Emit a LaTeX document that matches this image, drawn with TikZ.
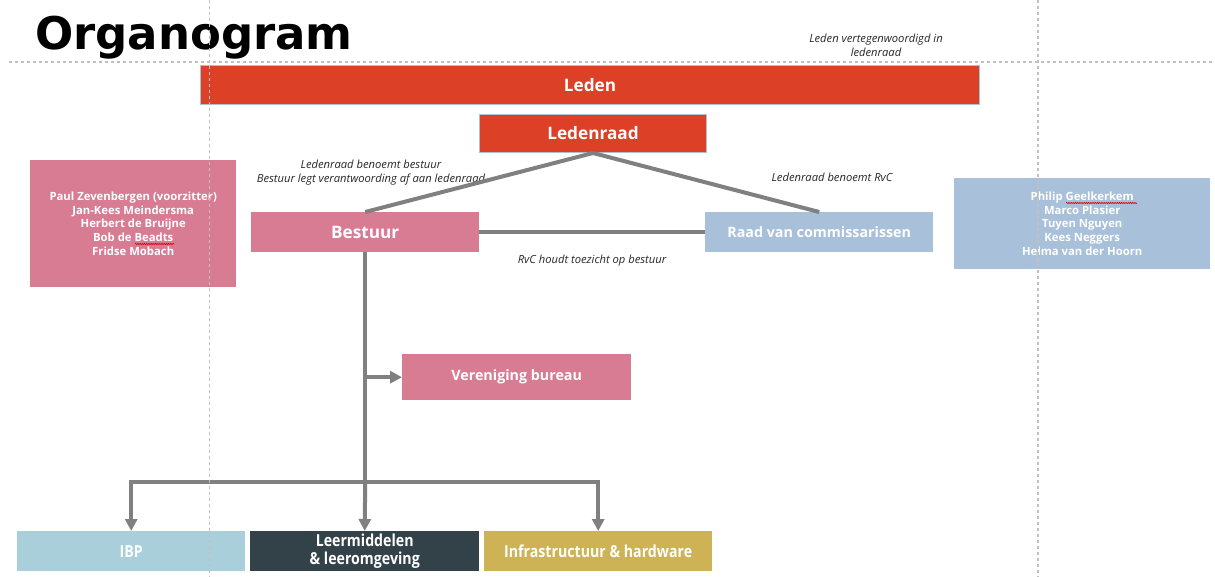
\documentclass[tikz,border=0pt]{standalone}
\usepackage{fontspec}
\setmainfont{Open Sans}
\newfontfamily\titlefont{DejaVu Sans}
\newfontfamily\condfont{Open Sans}[FakeStretch=0.86]
\usetikzlibrary{arrows.meta,decorations.pathmorphing,calc}
\definecolor{cred}{HTML}{DC4128}
\definecolor{credb}{HTML}{AAC3D0}
\definecolor{cpink}{HTML}{D77C93}
\definecolor{cblue}{HTML}{A8C0D9}
\definecolor{cibp}{HTML}{A8CFDA}
\definecolor{cdark}{HTML}{334249}
\definecolor{cgold}{HTML}{CDB256}
\definecolor{cgray}{HTML}{808080}
\definecolor{cguide}{HTML}{C0C0C0}
\definecolor{clabel}{HTML}{262626}
\tikzset{
  boxnode/.style={anchor=north west, inner sep=0pt, text=white, align=center},
  bigtxt/.style={font=\fontsize{17.2}{20}\selectfont\bfseries},
  midtxt/.style={font=\fontsize{14.3}{17}\selectfont\bfseries},
  condtxt/.style={font=\condfont\fontsize{16.5}{18.5}\selectfont\bfseries},
  nametxt/.style={font=\fontsize{11.3}{13.6}\selectfont\bfseries},
  lbl/.style={text=clabel, inner sep=0pt, align=center, font=\fontsize{11.2}{14}\selectfont\itshape},
  conn/.style={draw=cgray, line width=4pt},
  arr/.style={conn, -{Triangle[width=12pt,length=12pt]}, shorten >=0pt},
  guide/.style={draw=cguide, line width=1.2pt, dash pattern=on 3pt off 3pt},
  spell/.style={draw=red!80!black, line width=0.6pt, decorate, decoration={snake, segment length=2.2pt, amplitude=0.6pt}}
}
\begin{document}
\begin{tikzpicture}[x=1pt,y=-1pt]
\useasboundingbox (0,0) rectangle (1215,577);
% title
\node[anchor=base west, inner sep=0pt, font=\titlefont\bfseries\fontsize{45}{50}\selectfont] (title) at (35,50) {Organogram};
% boxes
\node[boxnode, bigtxt, fill=cred, draw=credb, line width=1pt, minimum width=779pt, minimum height=39pt] (leden) at (200,65) {Leden};
\node[boxnode, bigtxt, fill=cred, draw=credb, line width=1pt, minimum width=227pt, minimum height=38pt] (ledenraad) at (479,114) {Ledenraad};
\node[boxnode, bigtxt, fill=cpink, minimum width=228pt, minimum height=40pt] (bestuur) at (251,212) {Bestuur};
\node[boxnode, midtxt, fill=cblue, minimum width=228pt, minimum height=40pt] (rvc) at (705,212) {Raad van commissarissen};
\node[boxnode, nametxt, fill=cpink, minimum width=206pt, minimum height=127pt] (bestuurleden) at (30,160) {Paul Zevenbergen (voorzitter)\\Jan-Kees Meindersma\\Herbert de Bruijne\\Bob de Beadts\\Fridse Mobach};
\node[boxnode, nametxt, fill=cblue, minimum width=256pt, minimum height=91pt] (rvcleden) at (954,178) {Philip Geelkerkem\\Marco Plasier\\Tuyen Nguyen\\Kees Neggers\\Helma van der Hoorn};
\node[boxnode, midtxt, fill=cpink, minimum width=229pt, minimum height=46pt] (bureau) at (402,354) {Vereniging bureau};
\node[boxnode, condtxt, fill=cibp, minimum width=228pt, minimum height=40pt] (ibp) at (17,531) {IBP};
\node[boxnode, condtxt, fill=cdark, minimum width=229pt, minimum height=40pt, font=\condfont\fontsize{16.5}{18.5}\selectfont\bfseries] (leer) at (250,531) {Leermiddelen\\\& leeromgeving};
\node[boxnode, condtxt, fill=cgold, minimum width=228pt, minimum height=40pt] (infra) at (484,531) {Infrastructuur \& hardware};
% labels
\node[lbl] (l1) at (876,45) {Leden vertegenwoordigd in\\ledenraad};
\node[lbl] (l2) at (371,173) {Ledenraad benoemt bestuur\\Bestuur legt verantwoording af aan ledenraad};
\node[lbl] (l3) at (832,177) {Ledenraad benoemt RvC};
\node[lbl] (l4) at (592,261) {RvC houdt toezicht op bestuur};
% connectors
\draw[conn] (ledenraad.south) -- (bestuur.north);
\draw[conn] (ledenraad.south) -- (rvc.north);
\draw[conn] (bestuur.east) -- (rvc.west);
\coordinate (jb) at (bestuur.south |- bureau.west);
\coordinate (jd) at ($(bestuur.south)+(0,230)$);
\draw[conn] (bestuur.south) -- (jd);
\draw[arr] (jb) -- (bureau.west);
\draw[arr] (jd) -| (ibp.north);
\draw[arr] (jd) -| (infra.north);
\draw[arr] (jd) -- (leer.north);
% spellcheck marks
\draw[spell] (135,244) -- (174,244);
\draw[spell] (1066,203) -- (1137,203);
% guides
\draw[guide] (9,62) -- (1215,62);
\draw[guide] (209.5,0) -- (209.5,577);
\draw[guide] (1038,0) -- (1038,577);
\end{tikzpicture}
\end{document}
